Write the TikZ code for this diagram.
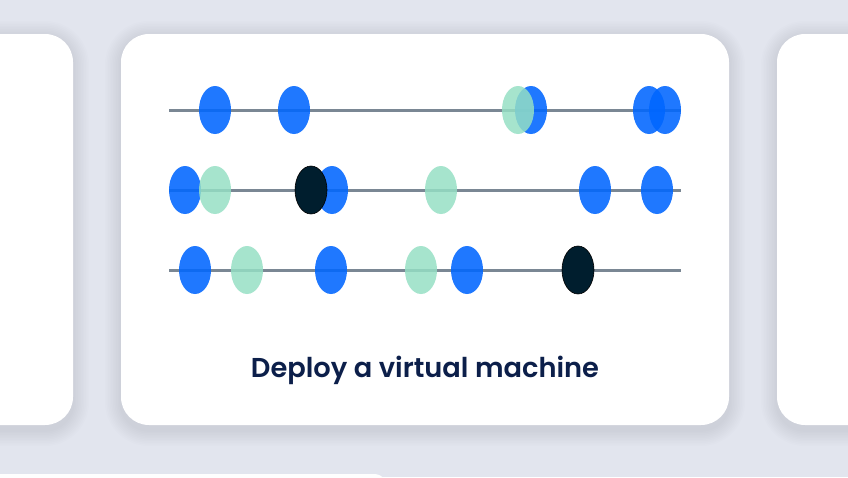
\documentclass[tikz,border=0pt]{standalone}
\usepackage{fontspec}
\setmainfont{Poppins}
\IfFontExistsTF{Poppins SemiBold}
  {\newfontfamily\titlefont{Poppins SemiBold}}
  {\newfontfamily\titlefont{Poppins}\def\titlebf{\bfseries}}
\providecommand{\titlebf}{}
\usetikzlibrary{shapes.geometric}
\definecolor{bgc}{HTML}{E2E5EE}
\definecolor{shc}{HTML}{5A6485}
\definecolor{dotblue}{HTML}{0066FF}
\definecolor{dotgreen}{HTML}{95E0C4}
\definecolor{dotdark}{HTML}{001E2E}
\definecolor{railc}{HTML}{7A8794}
\definecolor{navy}{HTML}{0C1F4A}
\tikzset{
  card/.style={fill=white, rounded corners=28pt, draw=none},
  shadowlayer/.style={fill=shc, fill opacity=0.011, draw=none},
  rail/.style={draw=railc, line width=3pt},
  dot/.style={ellipse, minimum width=32pt, minimum height=48pt, inner sep=0pt, draw=none},
  bdot/.style={dot, fill=dotblue, fill opacity=0.88},
  gdot/.style={dot, fill=dotgreen, fill opacity=0.84},
  ddot/.style={dot, fill=dotdark, draw=black, line width=0.6pt},
  title/.style={text=navy, font=\titlefont\titlebf, inner sep=0pt, anchor=base}
}
\newcommand{\softshadow}[4]{%
  \foreach \k in {1,...,10} {
    \fill[shadowlayer, rounded corners={28pt+\k*1.6pt}]
      ({#1-\k*1.6},{#2+3-\k*1.6}) rectangle ({#3+\k*1.6},{#4+5+\k*1.6});
  }%
}
\begin{document}
\begin{tikzpicture}[x=1pt,y=-1pt]
\useasboundingbox (0,0) rectangle (848,477);
\fill[bgc] (0,0) rectangle (848,477);
% shadows
\softshadow{-60}{34}{73}{425}
\softshadow{777}{34}{910}{425}
\softshadow{121}{34}{729}{425}
% side cards
\path[card] (-60,34) rectangle (73,425);
\path[card] (777,34) rectangle (910,425);
% bottom card edge
\path[card, rounded corners=14pt, fill=white!96!bgc] (-40,474) rectangle (388,560);
% main card
\path[card] (121,34) rectangle (729,425);
% rails
\coordinate (r1a) at (169,110); \coordinate (r1b) at (681,110);
\coordinate (r2a) at (169,190); \coordinate (r2b) at (681,190);
\coordinate (r3a) at (169,270); \coordinate (r3b) at (681,270);
\draw[rail] (r1a) -- (r1b);
\draw[rail] (r2a) -- (r2b);
\draw[rail] (r3a) -- (r3b);
% row 1
\node[bdot] (a1) at (215,110) {};
\node[bdot] (a2) at (294,110) {};
\node[bdot] (a3) at (531,110) {};
\node[gdot] (a4) at (518,110) {};
\node[bdot] (a5) at (649,110) {};
\node[bdot] (a6) at (665,110) {};
% row 2
\node[bdot] (b1) at (185,190) {};
\node[gdot] (b2) at (215,190) {};
\node[bdot] (b3) at (332,190) {};
\node[ddot] (b4) at (311,190) {};
\node[gdot] (b5) at (441,190) {};
\node[bdot] (b6) at (595,190) {};
\node[bdot] (b7) at (657,190) {};
% row 3
\node[bdot] (c1) at (195,270) {};
\node[gdot] (c2) at (247,270) {};
\node[bdot] (c3) at (331,270) {};
\node[gdot] (c4) at (421,270) {};
\node[bdot] (c5) at (467,270) {};
\node[ddot] (c6) at (578,270) {};
% title
\node[title] (t) at (425,377) {\resizebox{348pt}{!}{Deploy a virtual machine}};
\end{tikzpicture}
\end{document}
